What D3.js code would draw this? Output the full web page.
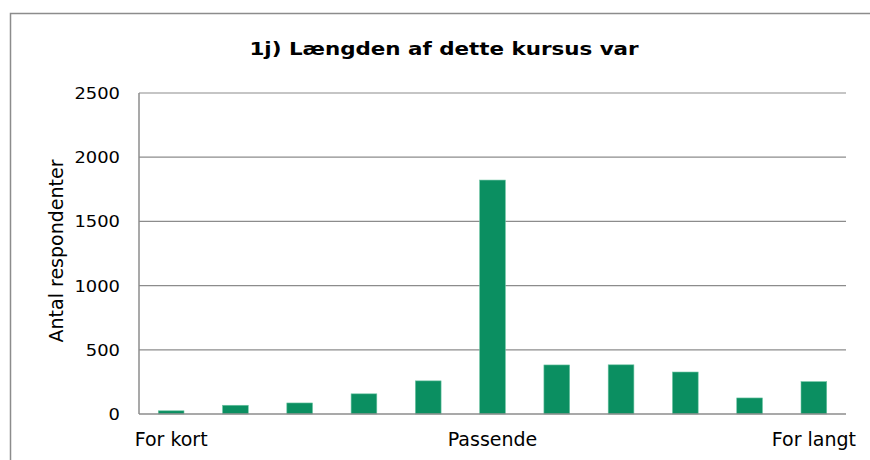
<!DOCTYPE html>
<html>
<head>
<meta charset="utf-8">
<script src="https://cdn.jsdelivr.net/npm/d3@7"></script>
<style>
  body { margin: 0; background: #fff; }
  text { font-family: "DejaVu Sans", Verdana, sans-serif; }
</style>
</head>
<body>
<script>
// Categories (only first, middle and last have a label)
var categories = ["1","2","3","4","5","6","7","8","9","10","11"];
var catLabels = ["For kort","","","","","Passende","","","","","For langt"];
var counts = [25, 68, 86, 157, 258, 1822, 382, 383, 327, 125, 252];
var yTicks = [0, 500, 1000, 1500, 2000, 2500];

var w = 870, h = 460;
var plotLeft = 139, plotRight = 846, plotTop = 93, plotBottom = 414;

var svg = d3.select("body").append("svg")
  .attr("width", w)
  .attr("height", h);

// chart border
svg.append("rect")
  .attr("x", 10.5).attr("y", 13.5)
  .attr("width", 900).attr("height", 500)
  .attr("fill", "none")
  .attr("stroke", "#8c8c8c")
  .attr("stroke-width", 1.5);

var x = d3.scaleBand().domain(categories).range([plotLeft, plotRight]).paddingInner(0.6).paddingOuter(0.3);
var y = d3.scaleLinear().domain([0, 2500]).range([plotBottom, plotTop]);

// gridlines
svg.selectAll("line.grid")
  .data(yTicks.slice(1))
  .enter().append("line")
  .attr("class", "grid")
  .attr("x1", plotLeft).attr("x2", plotRight)
  .attr("y1", function(d){ return y(d); })
  .attr("y2", function(d){ return y(d); })
  .attr("stroke", "#8c8c8c")
  .attr("stroke-width", 1.2);

// y tick labels (slightly widened to match the wider original face)
svg.selectAll("text.ytick")
  .data(yTicks)
  .enter().append("text")
  .attr("class", "ytick")
  .attr("transform", function(d){ return "translate(120," + (y(d) + 6) + ") scale(1.12,1)"; })
  .attr("text-anchor", "end")
  .attr("font-size", 16)
  .attr("fill", "#000")
  .text(function(d){ return d; });

// bars
svg.selectAll("rect.bar")
  .data(counts)
  .enter().append("rect")
  .attr("class", "bar")
  .attr("x", function(d, i){ return x(categories[i]); })
  .attr("width", x.bandwidth())
  .attr("y", function(d){ return y(d); })
  .attr("height", function(d){ return plotBottom - y(d); })
  .attr("fill", "#0b8f61")
  .attr("stroke", "#6cc4a2")
  .attr("stroke-width", 0.6);

// axes lines
svg.append("line")
  .attr("x1", plotLeft).attr("x2", plotLeft)
  .attr("y1", plotTop).attr("y2", plotBottom)
  .attr("stroke", "#8c8c8c").attr("stroke-width", 1.5);
svg.append("line")
  .attr("x1", plotLeft).attr("x2", plotRight)
  .attr("y1", plotBottom).attr("y2", plotBottom)
  .attr("stroke", "#8c8c8c").attr("stroke-width", 1.5);

// x labels
svg.selectAll("text.xlab")
  .data(categories)
  .enter().append("text")
  .attr("class", "xlab")
  .attr("x", function(d){ return x(d) + x.bandwidth() / 2; })
  .attr("y", 446)
  .attr("text-anchor", "middle")
  .attr("font-size", 19)
  .text(function(d, i){ return catLabels[i]; });

// title
svg.append("text")
  .attr("transform", "translate(444,55) scale(1.19,1)")
  .attr("text-anchor", "middle")
  .attr("font-size", 18)
  .attr("font-weight", "bold")
  .text("1j) Længden af dette kursus var");

// y axis title
svg.append("text")
  .attr("transform", "translate(63,251) rotate(-90)")
  .attr("text-anchor", "middle")
  .attr("font-size", 19)
  .text("Antal respondenter");
</script>
</body>
</html>
